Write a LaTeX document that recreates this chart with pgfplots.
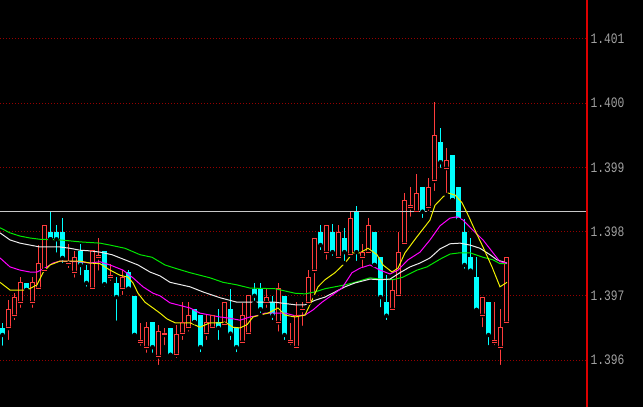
\documentclass[border=0pt]{standalone}
\usepackage{pgfplots}
\pgfplotsset{compat=1.18}
\usepackage{pgfplotstable}
\usepackage{fontspec}
\newfontfamily\tickfont[FakeStretch=0.78]{Liberation Mono}
\definecolor{cred}{RGB}{255,60,60}
\definecolor{ccyan}{RGB}{0,255,255}
\definecolor{gridred}{RGB}{150,0,0}
\definecolor{axred}{RGB}{220,0,0}
\definecolor{labgray}{RGB}{160,160,160}
\definecolor{mayellow}{RGB}{240,240,0}
\definecolor{mamag}{RGB}{255,0,255}
\definecolor{mawhite}{RGB}{235,235,235}
\definecolor{magreen}{RGB}{0,230,0}
\definecolor{hline}{RGB}{200,200,200}

% up (red, hollow) candles
\pgfplotstableread{
i O H L C
1 1.39650 1.39693 1.39628 1.39679
2 1.39669 1.39704 1.39659 1.39698
3 1.39690 1.39729 1.39678 1.39720
5 1.39690 1.39729 1.39678 1.39720
6 1.39711 1.39779 1.39711 1.39750
7 1.39740 1.39810 1.39740 1.39810
11 1.39750 1.39781 1.39740 1.39751
12 1.39737 1.39770 1.39725 1.39760
15 1.39711 1.39770 1.39711 1.39770
16 1.39760 1.39790 1.39736 1.39762
18 1.39729 1.39750 1.39720 1.39731
20 1.39711 1.39740 1.39698 1.39729
23 1.39628 1.39658 1.39619 1.39630
24 1.39620 1.39659 1.39608 1.39650
26 1.39606 1.39655 1.39589 1.39644
27 1.39639 1.39650 1.39620 1.39641
29 1.39608 1.39655 1.39600 1.39639
30 1.39641 1.39690 1.39628 1.39659
31 1.39650 1.39690 1.39641 1.39670
34 1.39641 1.39670 1.39628 1.39659
35 1.39650 1.39670 1.39650 1.39670
37 1.39655 1.39690 1.39655 1.39690
40 1.39628 1.39689 1.39628 1.39670
41 1.39641 1.39700 1.39641 1.39700
44 1.39690 1.39711 1.39678 1.39698
46 1.39659 1.39720 1.39641 1.39711
48 1.39628 1.39658 1.39620 1.39630
49 1.39620 1.39690 1.39620 1.39669
50 1.39678 1.39690 1.39650 1.39679
51 1.39689 1.39740 1.39689 1.39729
52 1.39739 1.39790 1.39698 1.39790
54 1.39768 1.39810 1.39753 1.39810
56 1.39760 1.39810 1.39760 1.39799
58 1.39764 1.39831 1.39764 1.39820
60 1.39760 1.39781 1.39740 1.39768
61 1.39768 1.39821 1.39768 1.39810
65 1.39679 1.39725 1.39679 1.39709
66 1.39700 1.39799 1.39700 1.39768
67 1.39781 1.39860 1.39781 1.39849
68 1.39838 1.39869 1.39820 1.39840
69 1.39831 1.39890 1.39831 1.39860
71 1.39838 1.39883 1.39829 1.39869
72 1.39879 1.40002 1.39860 1.39950
74 1.39899 1.39930 1.39857 1.39910
80 1.39670 1.39698 1.39648 1.39698
82 1.39628 1.39690 1.39620 1.39630
83 1.39620 1.39679 1.39589 1.39650
84 1.39658 1.39760 1.39658 1.39760
}\up

% down (cyan, filled) candles
\pgfplotstableread{
i O H L C
0 1.39650 1.39658 1.39619 1.39639
4 1.39720 1.39720 1.39709 1.39709
8 1.39799 1.39831 1.39788 1.39788
9 1.39799 1.39810 1.39764 1.39788
10 1.39799 1.39821 1.39748 1.39759
13 1.39770 1.39781 1.39729 1.39748
14 1.39740 1.39748 1.39711 1.39720
17 1.39770 1.39770 1.39711 1.39718
19 1.39720 1.39729 1.39658 1.39698
21 1.39737 1.39740 1.39711 1.39711
22 1.39700 1.39700 1.39639 1.39639
25 1.39659 1.39659 1.39608 1.39620
28 1.39650 1.39650 1.39608 1.39608
32 1.39679 1.39679 1.39659 1.39659
33 1.39670 1.39670 1.39609 1.39620
36 1.39659 1.39679 1.39628 1.39650
38 1.39679 1.39711 1.39628 1.39641
39 1.39650 1.39650 1.39609 1.39620
42 1.39711 1.39720 1.39689 1.39700
43 1.39711 1.39720 1.39670 1.39679
45 1.39690 1.39700 1.39659 1.39669
47 1.39700 1.39700 1.39628 1.39639
53 1.39799 1.39810 1.39768 1.39779
55 1.39799 1.39812 1.39759 1.39768
57 1.39790 1.39806 1.39751 1.39768
59 1.39831 1.39840 1.39751 1.39768
62 1.39799 1.39799 1.39748 1.39748
63 1.39760 1.39760 1.39679 1.39698
64 1.39690 1.39732 1.39659 1.39669
70 1.39869 1.39869 1.39818 1.39831
73 1.39940 1.39961 1.39896 1.39908
75 1.39919 1.39919 1.39849 1.39849
76 1.39869 1.39869 1.39818 1.39818
77 1.39799 1.39820 1.39739 1.39748
78 1.39760 1.39790 1.39739 1.39739
79 1.39729 1.39760 1.39678 1.39678
81 1.39690 1.39690 1.39620 1.39639
}\dn

\begin{document}
\begin{tikzpicture}
\fill[black] (0,0) rectangle (643bp,407bp);
\begin{axis}[
  name=ax,
  at={(0,0)}, anchor=south west,
  scale only axis, width=587bp, height=407bp,
  xmin=-0.41667, xmax=97.41667,
  ymin=1.395268, ymax=1.401607,
  axis x line=none,
  axis y line=right,
  axis line style={-, draw=none},
  ytick={1.396,1.397,1.398,1.399,1.400,1.401},
  yticklabels={1.396,1.397,1.398,1.399,1.400,1.401},
  major tick length=0pt,
  yticklabel style={text=labgray, font=\tickfont\fontsize{14.5}{15}\selectfont, anchor=west, inner sep=0pt, xshift=3.5bp},
  ymajorgrids,
  grid style={draw=gridred, line width=1bp, dash pattern=on 1bp off 2bp},
  clip=true,
]
% wicks
\addplot[only marks, mark=none, error bars/.cd, y dir=plus, y explicit, error mark=none,
  error bar style={draw=cred, line width=1bp}]
  table[x=i, y=L, y error expr=\thisrow{H}-\thisrow{L}] {\up};
\addplot[only marks, mark=none, error bars/.cd, y dir=plus, y explicit, error mark=none,
  error bar style={draw=ccyan, line width=1bp}]
  table[x=i, y=L, y error expr=\thisrow{H}-\thisrow{L}] {\dn};
% red hollow bodies
\addplot[only marks, mark=none, error bars/.cd, y dir=plus, y explicit, error mark=none,
  error bar style={draw=cred, line width=5bp}]
  table[x=i, y=O, y error expr=\thisrow{C}-\thisrow{O}] {\up};
\addplot[only marks, mark=none, error bars/.cd, y dir=plus, y explicit, error mark=none,
  error bar style={draw=black, line width=3bp}]
  table[x=i, y=O, y error expr=\thisrow{C}-\thisrow{O}] {\up};
\addplot[only marks, mark=-, mark size=2.5bp, mark options={draw=cred, line width=1bp}]
  table[x=i, y=O] {\up};
\addplot[only marks, mark=-, mark size=2.5bp, mark options={draw=cred, line width=1bp}]
  table[x=i, y=C] {\up};
% cyan filled bodies
\addplot[only marks, mark=none, error bars/.cd, y dir=plus, y explicit, error mark=none,
  error bar style={draw=ccyan, line width=5bp}]
  table[x=i, y=C, y error expr=\thisrow{O}-\thisrow{C}] {\dn};

% horizontal reference line
\addplot[draw=hline, line width=1.3bp, mark=none] coordinates {(-0.41667,1.39831) (97.41667,1.39831)};

% moving averages
\addplot[draw=magreen, line width=1bp, mark=none] coordinates {
(-0.417,1.39806) (1.25,1.39798) (2.917,1.39793) (4.583,1.39790) (6.25,1.39788) (9.583,1.39787) (12.917,1.39784) (16.25,1.39782) (17.917,1.39779) (20.417,1.39774) (22.917,1.39764) (24.917,1.39760) (27.083,1.39748) (28.75,1.39743) (31.25,1.39736) (34.583,1.39728) (36.75,1.39721) (39.083,1.39717) (41.25,1.39712) (45.417,1.39711) (48.75,1.39704) (50.417,1.39703) (52.083,1.39706) (53.75,1.39711) (55.417,1.39714) (57.083,1.39717) (58.75,1.39721) (61.25,1.39728) (62.917,1.39726) (65.083,1.39725) (66.75,1.39729) (69.083,1.39740) (70.75,1.39745) (72.917,1.39757) (74.583,1.39765) (76.25,1.39767) (77.917,1.39767) (80.083,1.39760) (81.75,1.39756) (82.917,1.39750) (84.083,1.39750)};
\addplot[draw=mawhite, line width=1bp, mark=none] coordinates {
(-0.417,1.39798) (1.25,1.39787) (2.917,1.39782) (4.583,1.39779) (6.25,1.39776) (9.583,1.39776) (11.25,1.39774) (12.917,1.39771) (14.583,1.39770) (16.25,1.39768) (18.25,1.39764) (20.417,1.39756) (22.583,1.39748) (24.583,1.39737) (26.25,1.39731) (27.917,1.39721) (31.25,1.39714) (33.417,1.39706) (36.25,1.39697) (39.083,1.39690) (42.917,1.39690) (45.417,1.39690) (48.75,1.39686) (50.417,1.39686) (52.083,1.39693) (53.75,1.39698) (55.417,1.39706) (57.083,1.39714) (58.75,1.39720) (61.25,1.39726) (62.917,1.39725) (64.583,1.39726) (66.25,1.39736) (67.917,1.39745) (69.583,1.39751) (71.25,1.39759) (72.917,1.39773) (74.583,1.39781) (76.25,1.39782) (77.917,1.39779) (79.583,1.39774) (81.25,1.39764) (82.417,1.39756) (84.083,1.39751)};
\addplot[draw=mamag, line width=1bp, mark=none] coordinates {
(-0.417,1.39759) (1.25,1.39745) (2.917,1.39740) (4.583,1.39737) (5.75,1.39737) (7.417,1.39745) (8.417,1.39751) (9.583,1.39754) (12.917,1.39753) (14.583,1.39751) (16.25,1.39753) (17.917,1.39748) (20.083,1.39740) (21.75,1.39728) (23.417,1.39714) (25.083,1.39704) (26.25,1.39700) (27.917,1.39689) (31.25,1.39681) (32.917,1.39673) (34.583,1.39670) (36.25,1.39667) (37.917,1.39665) (39.583,1.39662) (41.25,1.39667) (42.917,1.39670) (43.75,1.39673) (47.083,1.39673) (48.75,1.39669) (50.417,1.39670) (51.75,1.39678) (53.25,1.39690) (54.917,1.39701) (56.583,1.39712) (58.25,1.39736) (59.583,1.39743) (61.25,1.39748) (62.917,1.39740) (64.583,1.39734) (65.917,1.39740) (67.583,1.39756) (69.583,1.39768) (71.25,1.39787) (72.917,1.39809) (74.583,1.39821) (75.75,1.39823) (76.75,1.39818) (78.417,1.39802) (80.083,1.39787) (81.75,1.39767) (82.917,1.39753) (84.083,1.39751)};
\addplot[draw=mayellow, line width=1bp, mark=none] coordinates {
(-0.417,1.39721) (1.25,1.39709) (4.083,1.39709) (5.75,1.39717) (6.75,1.39736) (7.917,1.39748) (9.583,1.39754) (12.917,1.39754) (14.583,1.39751) (16.25,1.39750) (17.917,1.39740) (19.583,1.39732) (20.917,1.39729) (21.75,1.39720) (22.583,1.39704) (23.75,1.39690) (25.083,1.39681) (26.25,1.39673) (27.417,1.39664) (28.75,1.39658) (31.25,1.39658) (32.917,1.39651) (34.583,1.39658) (36.25,1.39658) (37.083,1.39659) (38.417,1.39651) (39.583,1.39650) (40.75,1.39655) (41.75,1.39667) (42.917,1.39670) (44.25,1.39673) (45.917,1.39681) (47.083,1.39670) (48.75,1.39667) (50.417,1.39670) (51.583,1.39693) (52.583,1.39714) (53.75,1.39725) (55.417,1.39736) (57.083,1.39751) (58.417,1.39767) (59.583,1.39767) (60.917,1.39774) (62.417,1.39764) (63.417,1.39748) (64.917,1.39737) (65.917,1.39743) (67.083,1.39767) (69.083,1.39792) (70.25,1.39806) (71.25,1.39818) (72.083,1.39841) (73.417,1.39854) (74.25,1.39860) (75.417,1.39857) (76.583,1.39845) (77.583,1.39826) (78.75,1.39802) (80.083,1.39776) (81.583,1.39745) (82.917,1.39714) (84.083,1.39721)};
\end{axis}
\draw[draw=axred, line width=1.2bp] (ax.south east) -- (ax.north east);
\pgfresetboundingbox
\useasboundingbox (0,0) rectangle (643bp,407bp);
\end{tikzpicture}
\end{document}
